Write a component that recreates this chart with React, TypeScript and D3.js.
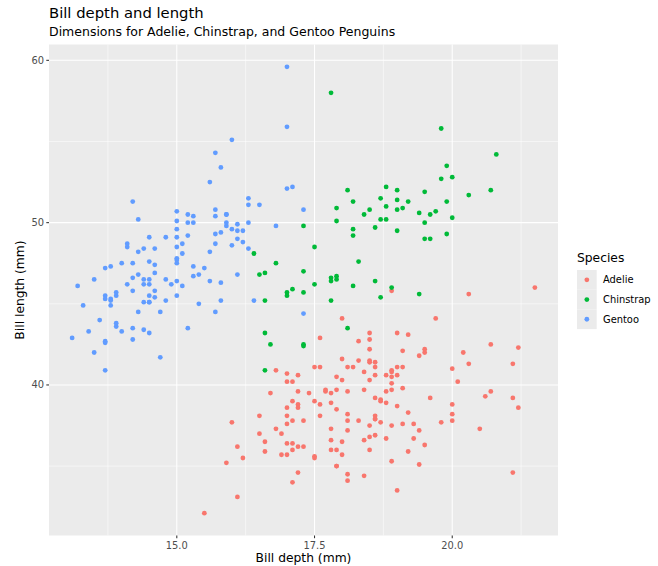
import React from "react";
import * as d3 from "d3";

// Adelie: [bill_length_mm, bill_depth_mm]
const adelie: [number, number][] = [
  [39.1,18.7],[39.5,17.4],[40.3,18.0],[36.7,19.3],[39.3,20.6],[38.9,17.8],[39.2,19.6],[34.1,18.1],[42.0,20.2],[37.8,17.1],
  [37.8,17.3],[41.1,17.6],[38.6,21.2],[34.6,21.1],[36.6,17.8],[38.7,19.0],[42.5,20.7],[34.4,18.4],[46.0,21.5],[37.8,18.3],
  [37.7,18.7],[35.9,19.2],[38.2,18.1],[38.8,17.2],[35.3,18.9],[40.6,18.6],[40.5,17.9],[37.9,18.6],[40.5,18.9],[39.5,16.7],
  [37.2,18.1],[39.5,17.8],[40.9,18.9],[36.4,17.0],[39.2,21.1],[38.8,20.0],[42.2,18.5],[37.6,19.3],[39.8,19.1],[36.5,18.0],
  [40.8,18.4],[36.0,18.5],[44.1,19.7],[37.0,16.9],[39.6,18.8],[41.1,19.0],[37.5,18.9],[36.0,17.9],[42.3,21.2],[39.6,17.7],
  [40.1,18.9],[35.0,17.9],[42.0,19.5],[34.5,18.1],[41.4,18.6],[39.0,17.5],[40.6,18.8],[36.5,16.6],[37.6,19.1],[35.7,16.9],
  [41.3,21.1],[37.6,17.0],[41.1,18.2],[36.4,17.1],[41.6,18.0],[35.5,16.2],[41.1,19.1],[35.9,16.6],[41.8,19.4],[33.5,19.0],
  [39.7,18.4],[39.6,17.2],[45.8,18.9],[35.5,17.5],[42.8,18.5],[40.9,16.8],[37.2,19.4],[36.2,16.1],[42.1,19.1],[34.6,17.2],
  [42.9,17.6],[36.7,18.8],[35.1,19.4],[37.3,17.8],[41.3,20.3],[36.3,19.5],[36.9,18.6],[38.3,19.2],[38.9,18.8],[35.7,18.0],
  [41.1,18.1],[34.0,17.1],[39.6,18.1],[36.2,17.3],[40.8,18.9],[38.1,18.6],[40.3,18.5],[33.1,16.1],[43.2,18.5],[35.0,17.9],
  [41.0,20.0],[37.7,16.0],[37.8,20.0],[37.9,18.6],[39.7,18.9],[38.6,17.2],[38.2,20.0],[38.1,17.0],[43.2,19.0],[38.1,16.5],
  [45.6,20.3],[39.7,17.7],[42.2,19.5],[39.6,20.7],[42.7,18.3],[38.6,17.0],[37.3,20.5],[35.7,17.0],[41.1,18.6],[36.2,17.2],
  [37.7,19.8],[40.2,17.0],[41.4,18.5],[35.2,15.9],[40.6,19.0],[38.8,17.6],[41.5,18.3],[39.0,17.1],[44.1,18.0],[38.5,17.9],
  [43.1,19.2],[36.8,18.5],[37.5,18.5],[38.1,17.6],[41.1,17.5],[35.6,17.5],[40.2,20.1],[37.0,16.5],[39.7,17.9],[40.2,17.1],
  [40.6,17.2],[32.1,15.5],[40.7,17.0],[37.3,16.8],[39.0,18.7],[39.2,18.6],[36.6,18.4],[36.0,17.8],[37.8,18.1],[36.0,17.1],
  [41.5,18.5]
];

const chinstrap: [number, number][] = [
  [46.5,17.9],[50.0,19.5],[51.3,19.2],[45.4,18.7],[52.7,19.8],[45.2,17.8],[46.1,18.2],[51.3,18.2],[46.0,18.9],[51.3,19.9],
  [46.6,17.8],[51.7,20.3],[47.0,17.3],[52.0,18.1],[45.9,17.1],[50.5,19.6],[50.3,20.0],[58.0,17.8],[46.4,18.6],[49.2,18.2],
  [42.4,17.3],[48.5,17.5],[43.2,16.6],[50.6,19.4],[46.7,17.9],[52.0,19.0],[50.5,18.4],[49.5,19.0],[46.4,17.8],[52.8,20.0],
  [40.9,16.6],[54.2,20.8],[42.5,16.7],[51.0,18.8],[49.7,18.6],[47.5,16.8],[47.6,18.3],[52.0,20.7],[46.9,16.6],[53.5,19.9],
  [49.0,19.5],[46.2,17.5],[50.9,19.1],[45.5,17.0],[50.9,17.9],[50.8,18.5],[50.1,17.9],[49.0,19.6],[51.5,18.7],[49.8,17.3],
  [48.1,16.4],[51.4,19.0],[45.7,17.3],[50.7,19.7],[42.5,17.3],[52.2,18.8],[45.2,16.6],[49.3,19.9],[50.2,18.8],[45.6,19.4],
  [51.9,19.5],[46.8,16.5],[45.7,17.0],[55.8,19.8],[43.5,18.1],[49.6,18.2],[50.8,19.0],[50.2,18.7]
];

const gentoo: [number, number][] = [
  [46.1,13.2],[50.0,16.3],[48.7,14.1],[50.0,15.2],[47.6,14.5],[46.5,13.5],[45.4,14.6],[46.7,15.3],[43.3,13.4],[46.8,15.4],
  [40.9,13.7],[49.0,16.1],[45.5,13.7],[48.4,14.6],[45.8,14.6],[49.3,15.7],[42.0,13.5],[49.2,15.2],[46.2,14.5],[48.7,15.1],
  [50.2,14.3],[45.1,14.5],[46.5,14.5],[46.3,15.8],[42.9,13.1],[46.1,15.1],[44.5,14.3],[47.8,15.0],[48.2,14.3],[50.0,15.3],
  [47.3,15.3],[42.8,14.2],[45.1,14.5],[59.6,17.0],[49.1,14.8],[48.4,16.3],[42.6,13.7],[44.4,17.3],[44.0,13.6],[48.7,15.7],
  [42.7,13.7],[49.6,16.0],[45.3,13.7],[49.6,15.0],[50.5,15.9],[43.6,13.9],[45.5,13.9],[50.5,15.9],[44.9,13.3],[45.2,15.8],
  [46.6,14.2],[48.5,14.1],[45.1,14.4],[50.1,15.0],[46.5,14.4],[45.0,15.4],[43.8,13.9],[45.5,15.0],[43.2,14.5],[50.4,15.3],
  [45.3,13.8],[46.2,14.9],[45.7,13.9],[54.3,15.7],[45.8,14.2],[49.8,16.8],[46.2,14.4],[49.5,16.2],[43.5,14.2],[50.7,15.0],
  [47.7,15.0],[46.4,15.6],[48.2,15.6],[46.5,14.8],[46.4,15.0],[48.6,16.0],[47.5,14.2],[51.1,16.3],[45.2,13.8],[45.2,16.4],
  [49.1,14.5],[52.5,15.6],[47.4,14.6],[50.0,15.9],[44.9,13.8],[50.8,17.3],[43.4,14.4],[51.3,14.2],[47.5,14.0],[52.1,17.0],
  [47.5,15.0],[52.2,17.1],[45.5,14.5],[49.5,16.1],[44.5,14.7],[50.8,15.7],[49.4,15.8],[46.9,14.6],[48.4,14.4],[51.1,16.5],
  [48.5,15.0],[55.9,17.0],[47.2,15.5],[49.1,15.0],[47.3,13.8],[46.8,16.1],[41.7,14.7],[53.4,15.8],[43.3,14.0],[48.1,15.1],
  [50.5,15.2],[49.8,15.9],[43.5,15.2],[51.5,16.3],[46.2,14.1],[55.1,16.0],[44.5,15.7],[48.8,16.2],[47.2,13.7],[46.8,14.3],
  [50.4,15.7],[45.2,14.8],[49.9,16.1]
];

const speciesNames = ["Adelie", "Chinstrap", "Gentoo"];
const speciesColors = ["#F8766D", "#00BA38", "#619CFF"];
const seriesList = [adelie, chinstrap, gentoo];

const xMajor = [15.0, 17.5, 20.0];
const xMinor = [13.75, 16.25, 18.75, 21.25];
const yMajor = [40, 50, 60];
const yMinor = [35, 45, 55];

const FONT = "DejaVu Sans, Verdana, sans-serif";

export default function App() {
  const W = 658, H = 566;
  const left = 49, right = 558, top = 44.5, bottom = 535.5;

  const all = seriesList.flat();
  const xExt = d3.extent(all, (d) => d[1]) as [number, number];
  const yExt = d3.extent(all, (d) => d[0]) as [number, number];
  const xPad = (xExt[1] - xExt[0]) * 0.05;
  const yPad = (yExt[1] - yExt[0]) * 0.05;
  const x = d3.scaleLinear().domain([xExt[0] - xPad, xExt[1] + xPad]).range([left, right]);
  const y = d3.scaleLinear().domain([yExt[0] - yPad, yExt[1] + yPad]).range([bottom, top]);

  const tickColor = "#333333";
  const labelColor = "#4D4D4D";

  return (
    <svg width={W} height={H} style={{ position: "absolute", left: 0, top: 0, background: "#fff" }} fontFamily={FONT}>
      <rect x={0} y={0} width={W} height={H} fill="#fff" />
      <text x={left} y={17.5} fontSize={14.8} fill="#000">Bill depth and length</text>
      <text x={left} y={35.5} fontSize={12.5} fill="#000">Dimensions for Adelie, Chinstrap, and Gentoo Penguins</text>

      <rect x={left} y={top} width={right - left} height={bottom - top} fill="#EBEBEB" />
      {xMinor.map((v) => (
        <line key={"xm" + v} x1={x(v)} x2={x(v)} y1={top} y2={bottom} stroke="#fff" strokeWidth={0.53} />
      ))}
      {yMinor.map((v) => (
        <line key={"ym" + v} x1={left} x2={right} y1={y(v)} y2={y(v)} stroke="#fff" strokeWidth={0.53} />
      ))}
      {xMajor.map((v) => (
        <line key={"xM" + v} x1={x(v)} x2={x(v)} y1={top} y2={bottom} stroke="#fff" strokeWidth={1.07} />
      ))}
      {yMajor.map((v) => (
        <line key={"yM" + v} x1={left} x2={right} y1={y(v)} y2={y(v)} stroke="#fff" strokeWidth={1.07} />
      ))}

      {seriesList.map((s, i) => (
        <g key={speciesNames[i]} fill={speciesColors[i]}>
          {s.map((d, j) => (
            <circle key={j} cx={x(d[1])} cy={y(d[0])} r={2.4} />
          ))}
        </g>
      ))}

      {xMajor.map((v) => (
        <g key={"xt" + v}>
          <line x1={x(v)} x2={x(v)} y1={bottom} y2={bottom + 2.7} stroke={tickColor} strokeWidth={1.07} />
          <text x={x(v)} y={549} fontSize={9.9} fill={labelColor} textAnchor="middle">{v.toFixed(1)}</text>
        </g>
      ))}
      {yMajor.map((v) => (
        <g key={"yt" + v}>
          <line x1={left - 2.7} x2={left} y1={y(v)} y2={y(v)} stroke={tickColor} strokeWidth={1.07} />
          <text x={left - 5} y={y(v)} dy="0.35em" fontSize={9.9} fill={labelColor} textAnchor="end">{v}</text>
        </g>
      ))}

      <text x={(left + right) / 2} y={562} fontSize={12.3} fill="#000" textAnchor="middle">Bill depth (mm)</text>
      <text transform={`translate(${24},${(top + bottom) / 2}) rotate(-90)`} fontSize={12.3} fill="#000" textAnchor="middle">Bill length (mm)</text>

      <text x={577} y={262} fontSize={12.3} fill="#000">Species</text>
      {speciesNames.map((n, i) => (
        <g key={"lg" + n}>
          <rect x={577} y={270 + i * 19.7} width={19.7} height={19.7} fill="#EBEBEB" />
          <circle cx={577 + 9.85} cy={270 + i * 19.7 + 9.85} r={2.4} fill={speciesColors[i]} />
          <text x={603} y={270 + i * 19.7 + 9.85} dy="0.35em" fontSize={9.9} fill="#000">{n}</text>
        </g>
      ))}
    </svg>
  );
}
